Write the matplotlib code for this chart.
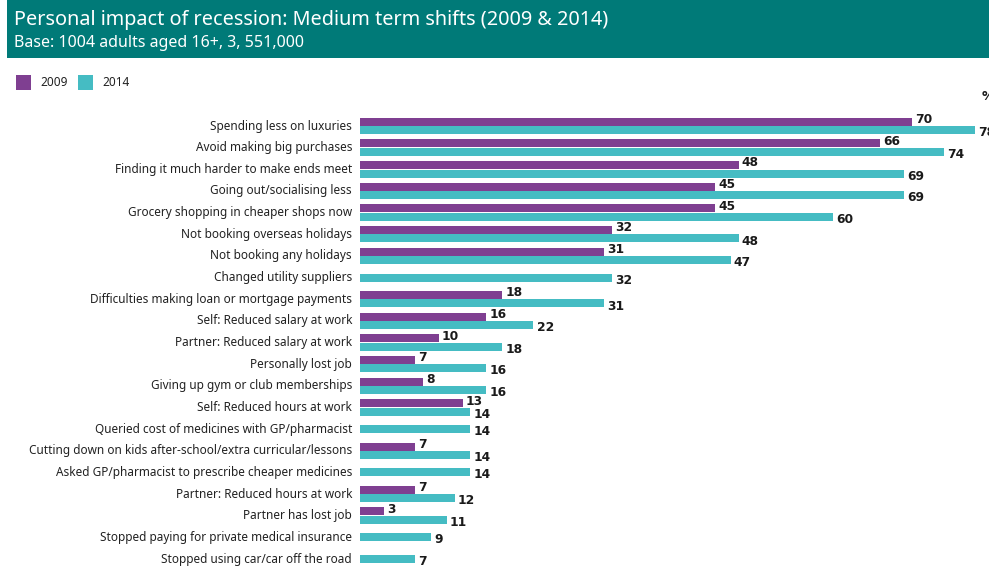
import numpy as np
import matplotlib
matplotlib.use("Agg")
import matplotlib.pyplot as plt
from matplotlib.patches import Rectangle

plt.rcParams['font.family'] = ['Noto Sans', 'DejaVu Sans']
NUM_FONT = ['DejaVu Sans']

categories = [
    "Spending less on luxuries",
    "Avoid making big purchases",
    "Finding it much harder to make ends meet",
    "Going out/socialising less",
    "Grocery shopping in cheaper shops now",
    "Not booking overseas holidays",
    "Not booking any holidays",
    "Changed utility suppliers",
    "Difficulties making loan or mortgage payments",
    "Self: Reduced salary at work",
    "Partner: Reduced salary at work",
    "Personally lost job",
    "Giving up gym or club memberships",
    "Self: Reduced hours at work",
    "Queried cost of medicines with GP/pharmacist",
    "Cutting down on kids after-school/extra curricular/lessons",
    "Asked GP/pharmacist to prescribe cheaper medicines",
    "Partner: Reduced hours at work",
    "Partner has lost job",
    "Stopped paying for private medical insurance",
    "Stopped using car/car off the road",
]
# None = not asked in 2009
vals_2009 = [70, 66, 48, 45, 45, 32, 31, None, 18, 16, 10, 7, 8, 13, None, 7, None, 7, 3, None, None]
vals_2014 = [78, 74, 69, 69, 60, 48, 47, 32, 31, 22, 18, 16, 16, 14, 14, 14, 14, 12, 11, 9, 7]

title = "Personal impact of recession: Medium term shifts (2009 & 2014)"
subtitle = "Base: 1004 adults aged 16+, 3, 551,000"

PURPLE = "#7f3f91"
TEAL = "#45bcc3"
BANNER = "#007a78"
W, H = 989, 569

fig = plt.figure(figsize=(W / 100, H / 100), dpi=100)
fig.patch.set_facecolor("white")

# header banner
fig.patches.append(Rectangle((7 / W, 1 - 58 / H), 1, 58 / H, transform=fig.transFigure,
                             facecolor=BANNER, edgecolor="none", zorder=0))
fig.text(14 / W, 1 - 20 / H, title, color="white", fontsize=14.3, va="center", ha="left")
fig.text(14 / W, 1 - 43 / H, subtitle, color="white", fontsize=11.5, va="center", ha="left")

# legend
for x0, col, lab in [(16, PURPLE, "2009"), (78, TEAL, "2014")]:
    fig.patches.append(Rectangle((x0 / W, 1 - 90 / H), 15 / W, 15 / H, transform=fig.transFigure,
                                 facecolor=col, edgecolor="none"))
    fig.text((x0 + 24) / W, 1 - 83 / H, lab, fontsize=8.5, va="center", ha="left", color="#222222")

fig.text(982 / W, 1 - 97 / H, "%", fontsize=9, fontweight="bold", family=NUM_FONT,
         va="center", ha="left", color="#1a1a1a")

# chart area: zero at x=360, 7.886 px per point, row 0 centred at y=126, 21.65 px per row
x_left, px_unit = 360, 7.886
row0, row_px = 126, 21.65
top_px = 105
ax = fig.add_axes([x_left / W, 0, (W - x_left) / W, 1 - top_px / H])
ax.set_xlim(0, (W - x_left) / px_unit)
ax.set_ylim((H - row0) / row_px, (top_px - row0) / row_px)
ax.axis("off")

bh = 0.37
y = np.arange(len(categories))
for i, (v09, v14) in enumerate(zip(vals_2009, vals_2014)):
    if v09 is not None:
        y09, y14 = i - bh / 2 - 0.01, i + bh / 2 + 0.01
        ax.barh(y09, v09, height=bh, color=PURPLE, edgecolor="none")
        ax.text(v09 + 0.4, y09 - 0.1, str(v09), fontsize=8.8, fontweight="bold", family=NUM_FONT,
                va="center", ha="left", color="#1a1a1a")
    else:
        y14 = i
    ax.barh(y14, v14, height=bh, color=TEAL, edgecolor="none")
    ax.text(v14 + 0.4, y14 + 0.12, str(v14), fontsize=8.8, fontweight="bold", family=NUM_FONT,
            va="center", ha="left", color="#1a1a1a", clip_on=False)

# category labels, right aligned just left of the bars
for i, cat in enumerate(categories):
    ax.text(-1.0, y[i], cat, fontsize=8.5, va="center", ha="right", color="#222222", clip_on=False)

fig.savefig("out.png", dpi=100)
